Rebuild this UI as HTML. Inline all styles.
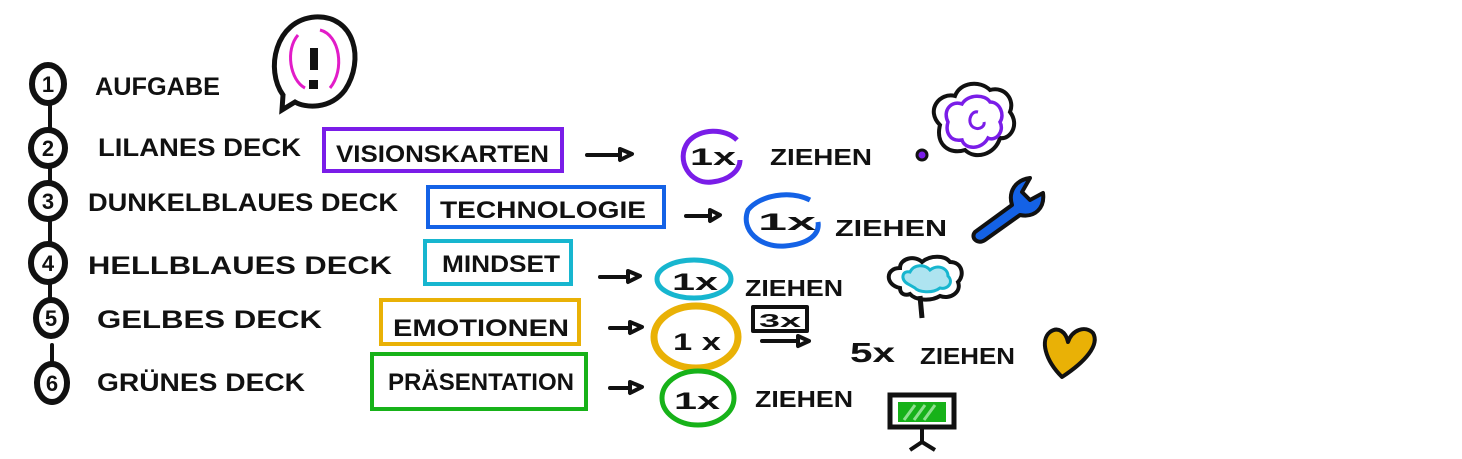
<!DOCTYPE html>
<html><head><meta charset="utf-8"><style>
html,body{margin:0;padding:0;background:#fff;width:1462px;height:459px;overflow:hidden}
svg text{font-family:"Liberation Sans",sans-serif;font-weight:bold;fill:#111;}
</style></head><body>
<svg width="1462" height="459" viewBox="0 0 1462 459" xmlns="http://www.w3.org/2000/svg">
<g stroke="#111" stroke-width="4" fill="none" stroke-linecap="round">
<line x1="50" y1="100" x2="50" y2="300"/>
<line x1="52" y1="345" x2="52" y2="365"/>
</g>
<g fill="#fff" stroke="#111" stroke-width="6">
<ellipse cx="48" cy="84" rx="16" ry="19"/>
<ellipse cx="48" cy="148" rx="17" ry="18"/>
<ellipse cx="48" cy="201" rx="17" ry="18"/>
<ellipse cx="48" cy="263" rx="17" ry="19"/>
<ellipse cx="51" cy="318" rx="15" ry="18"/>
<ellipse cx="52" cy="383" rx="15" ry="19"/>
</g>
<g font-size="22" text-anchor="middle">
<text x="48" y="92">1</text><text x="48" y="156">2</text><text x="48" y="209">3</text>
<text x="48" y="271">4</text><text x="51" y="326">5</text><text x="52" y="391">6</text>
</g>
<g font-size="25">
<text x="95" y="95" textLength="125" lengthAdjust="spacingAndGlyphs">AUFGABE</text>
<text x="98" y="156" textLength="203" lengthAdjust="spacingAndGlyphs">LILANES  DECK</text>
<text x="88" y="211" textLength="310" lengthAdjust="spacingAndGlyphs">DUNKELBLAUES DECK</text>
<text x="88" y="274" textLength="304" lengthAdjust="spacingAndGlyphs">HELLBLAUES   DECK</text>
<text x="97" y="328" textLength="225" lengthAdjust="spacingAndGlyphs">GELBES  DECK</text>
<text x="97" y="391" textLength="208" lengthAdjust="spacingAndGlyphs">GRÜNES DECK</text>
</g>
<!-- speech bubble -->
<path d="M283,95 C265,70 275,20 315,17 C355,15 365,60 345,90 C330,110 305,108 295,102 L282,110 Z" fill="#fff" stroke="#111" stroke-width="5"/>
<path d="M320,30 C340,35 345,70 330,88 M305,88 C290,80 285,50 298,35" fill="none" stroke="#e21cc8" stroke-width="3"/>
<rect x="310" y="48" width="8" height="22" fill="#111"/><rect x="309" y="80" width="9" height="9" fill="#111"/>
<!-- boxes -->
<g fill="none" stroke-width="4">
<rect x="324" y="129" width="238" height="42" stroke="#7a1de8"/>
<rect x="428" y="187" width="236" height="40" stroke="#1462e6"/>
<rect x="425" y="241" width="146" height="43" stroke="#17b6cf"/>
<rect x="381" y="300" width="198" height="44" stroke="#e9b106"/>
<rect x="372" y="354" width="214" height="55" stroke="#17b219"/>
</g>
<g font-size="24">
<text x="336" y="162" textLength="213" lengthAdjust="spacingAndGlyphs">VISIONSKARTEN</text>
<text x="440" y="218" textLength="206" lengthAdjust="spacingAndGlyphs">TECHNOLOGIE</text>
<text x="442" y="272" textLength="118" lengthAdjust="spacingAndGlyphs">MINDSET</text>
<text x="393" y="336" textLength="176" lengthAdjust="spacingAndGlyphs">EMOTIONEN</text>
<text x="388" y="390" textLength="186" lengthAdjust="spacingAndGlyphs">PRÄSENTATION</text>
</g>
<!-- arrows -->
<g stroke="#111" stroke-width="4" fill="none" stroke-linecap="round" stroke-linejoin="round">
<path d="M587,155 H620 M620,149 L632,154 L620,160 Z"/>
<path d="M686,216 H710 M710,210 L720,215 L710,221 Z"/>
<path d="M600,277 H628 M628,271 L640,276 L628,282 Z"/>
<path d="M610,328 H630 M630,322 L642,327 L630,333 Z"/>
<path d="M610,388 H630 M630,382 L642,387 L630,393 Z"/>
<path d="M762,341 H798 M798,336 L809,341 L798,346 Z"/>
<rect x="753" y="307" width="54" height="24"/>
</g>
<!-- 1x circles -->
<g fill="none" stroke-width="5">
<path d="M737,140 C725,128 700,128 688,142 C675,160 690,185 712,182 C730,180 740,170 740,160" stroke="#7a1de8"/>
<path d="M810,200 C790,190 760,195 748,210 C740,230 760,248 785,246 C808,244 820,235 818,222" stroke="#1462e6"/>
<ellipse cx="694" cy="279" rx="37" ry="19" stroke="#17b6cf"/>
<ellipse cx="696" cy="337" rx="42" ry="31" stroke="#e9b106" stroke-width="7"/>
<ellipse cx="698" cy="398" rx="36" ry="27" stroke="#17b219"/>
</g>
<g font-size="24">
<text x="690" y="165" textLength="46" lengthAdjust="spacingAndGlyphs">1x</text>
<text x="758" y="230" textLength="58" lengthAdjust="spacingAndGlyphs">1x</text>
<text x="672" y="290" textLength="46" lengthAdjust="spacingAndGlyphs">1x</text>
<text x="673" y="350" textLength="48" lengthAdjust="spacingAndGlyphs">1 x</text>
<text x="674" y="409" textLength="46" lengthAdjust="spacingAndGlyphs">1x</text>
<text x="759" y="327" font-size="18" textLength="42" lengthAdjust="spacingAndGlyphs">3x</text>
<text x="850" y="362" font-size="28" textLength="45" lengthAdjust="spacingAndGlyphs">5x</text>
</g>
<g font-size="23">
<text x="770" y="165" textLength="102" lengthAdjust="spacingAndGlyphs">ZIEHEN</text>
<text x="835" y="236" textLength="112" lengthAdjust="spacingAndGlyphs">ZIEHEN</text>
<text x="745" y="296" textLength="98" lengthAdjust="spacingAndGlyphs">ZIEHEN</text>
<text x="920" y="364" textLength="95" lengthAdjust="spacingAndGlyphs">ZIEHEN</text>
<text x="755" y="407" textLength="98" lengthAdjust="spacingAndGlyphs">ZIEHEN</text>
</g>
<!-- thought cloud -->
<circle cx="922" cy="155" r="5" fill="#7a1de8" stroke="#111" stroke-width="3"/>
<path d="M940,125 C925,110 940,92 955,96 C960,82 980,80 990,90 C1005,86 1015,100 1010,112 C1020,125 1010,140 1000,138 C995,155 975,160 965,150 C950,155 935,145 940,125 Z" fill="#fff" stroke="#111" stroke-width="4"/>
<path d="M948,122 C942,110 952,100 962,104 C968,94 985,94 990,102 C1000,102 1005,115 1000,122 C1005,132 995,142 988,138 C982,150 965,150 962,140 C950,142 945,132 948,122 Z" fill="none" stroke="#7a1de8" stroke-width="3.5"/>
<path d="M978,112 C970,110 966,125 975,128 C980,130 985,126 984,122" fill="none" stroke="#7a1de8" stroke-width="3"/>
<!-- wrench -->
<path d="M975,232 L1012,205 C1008,192 1015,180 1030,178 L1022,192 L1030,200 L1043,193 C1045,208 1035,218 1020,215 L985,240 C978,245 970,238 975,232 Z" fill="#1462e6" stroke="#111" stroke-width="4" stroke-linejoin="round"/>
<!-- cloud tree -->
<path d="M900,288 C885,285 885,268 900,268 C900,258 915,255 922,262 C930,255 945,255 950,262 C962,262 965,275 958,282 C962,292 950,300 940,296 C930,302 915,300 910,294 C905,296 900,294 900,288 Z" fill="#fff" stroke="#111" stroke-width="4"/>
<path d="M908,284 C900,280 902,270 910,272 C914,264 925,264 930,270 C938,264 948,268 948,276 C954,282 948,290 940,288 C932,294 918,292 915,288 Z" fill="#aee4f0" stroke="#17b6cf" stroke-width="3"/>
<path d="M920,296 L922,318" stroke="#111" stroke-width="5"/>
<!-- heart -->
<path d="M1062,377 C1045,360 1040,340 1050,332 C1058,326 1066,332 1068,342 C1072,330 1085,325 1093,333 C1100,345 1085,362 1062,377 Z" fill="#e9b106" stroke="#111" stroke-width="4" stroke-linejoin="round"/>
<!-- screen -->
<rect x="890" y="395" width="64" height="32" fill="#fff" stroke="#111" stroke-width="5"/>
<rect x="898" y="402" width="48" height="20" fill="#17b219"/>
<path d="M904,420 L915,405 M914,420 L925,405 M924,420 L935,405" stroke="#8fe08f" stroke-width="3"/>
<path d="M922,428 V442 M910,450 L922,442 L935,450" stroke="#111" stroke-width="4" fill="none"/>
</svg>
</body></html>
